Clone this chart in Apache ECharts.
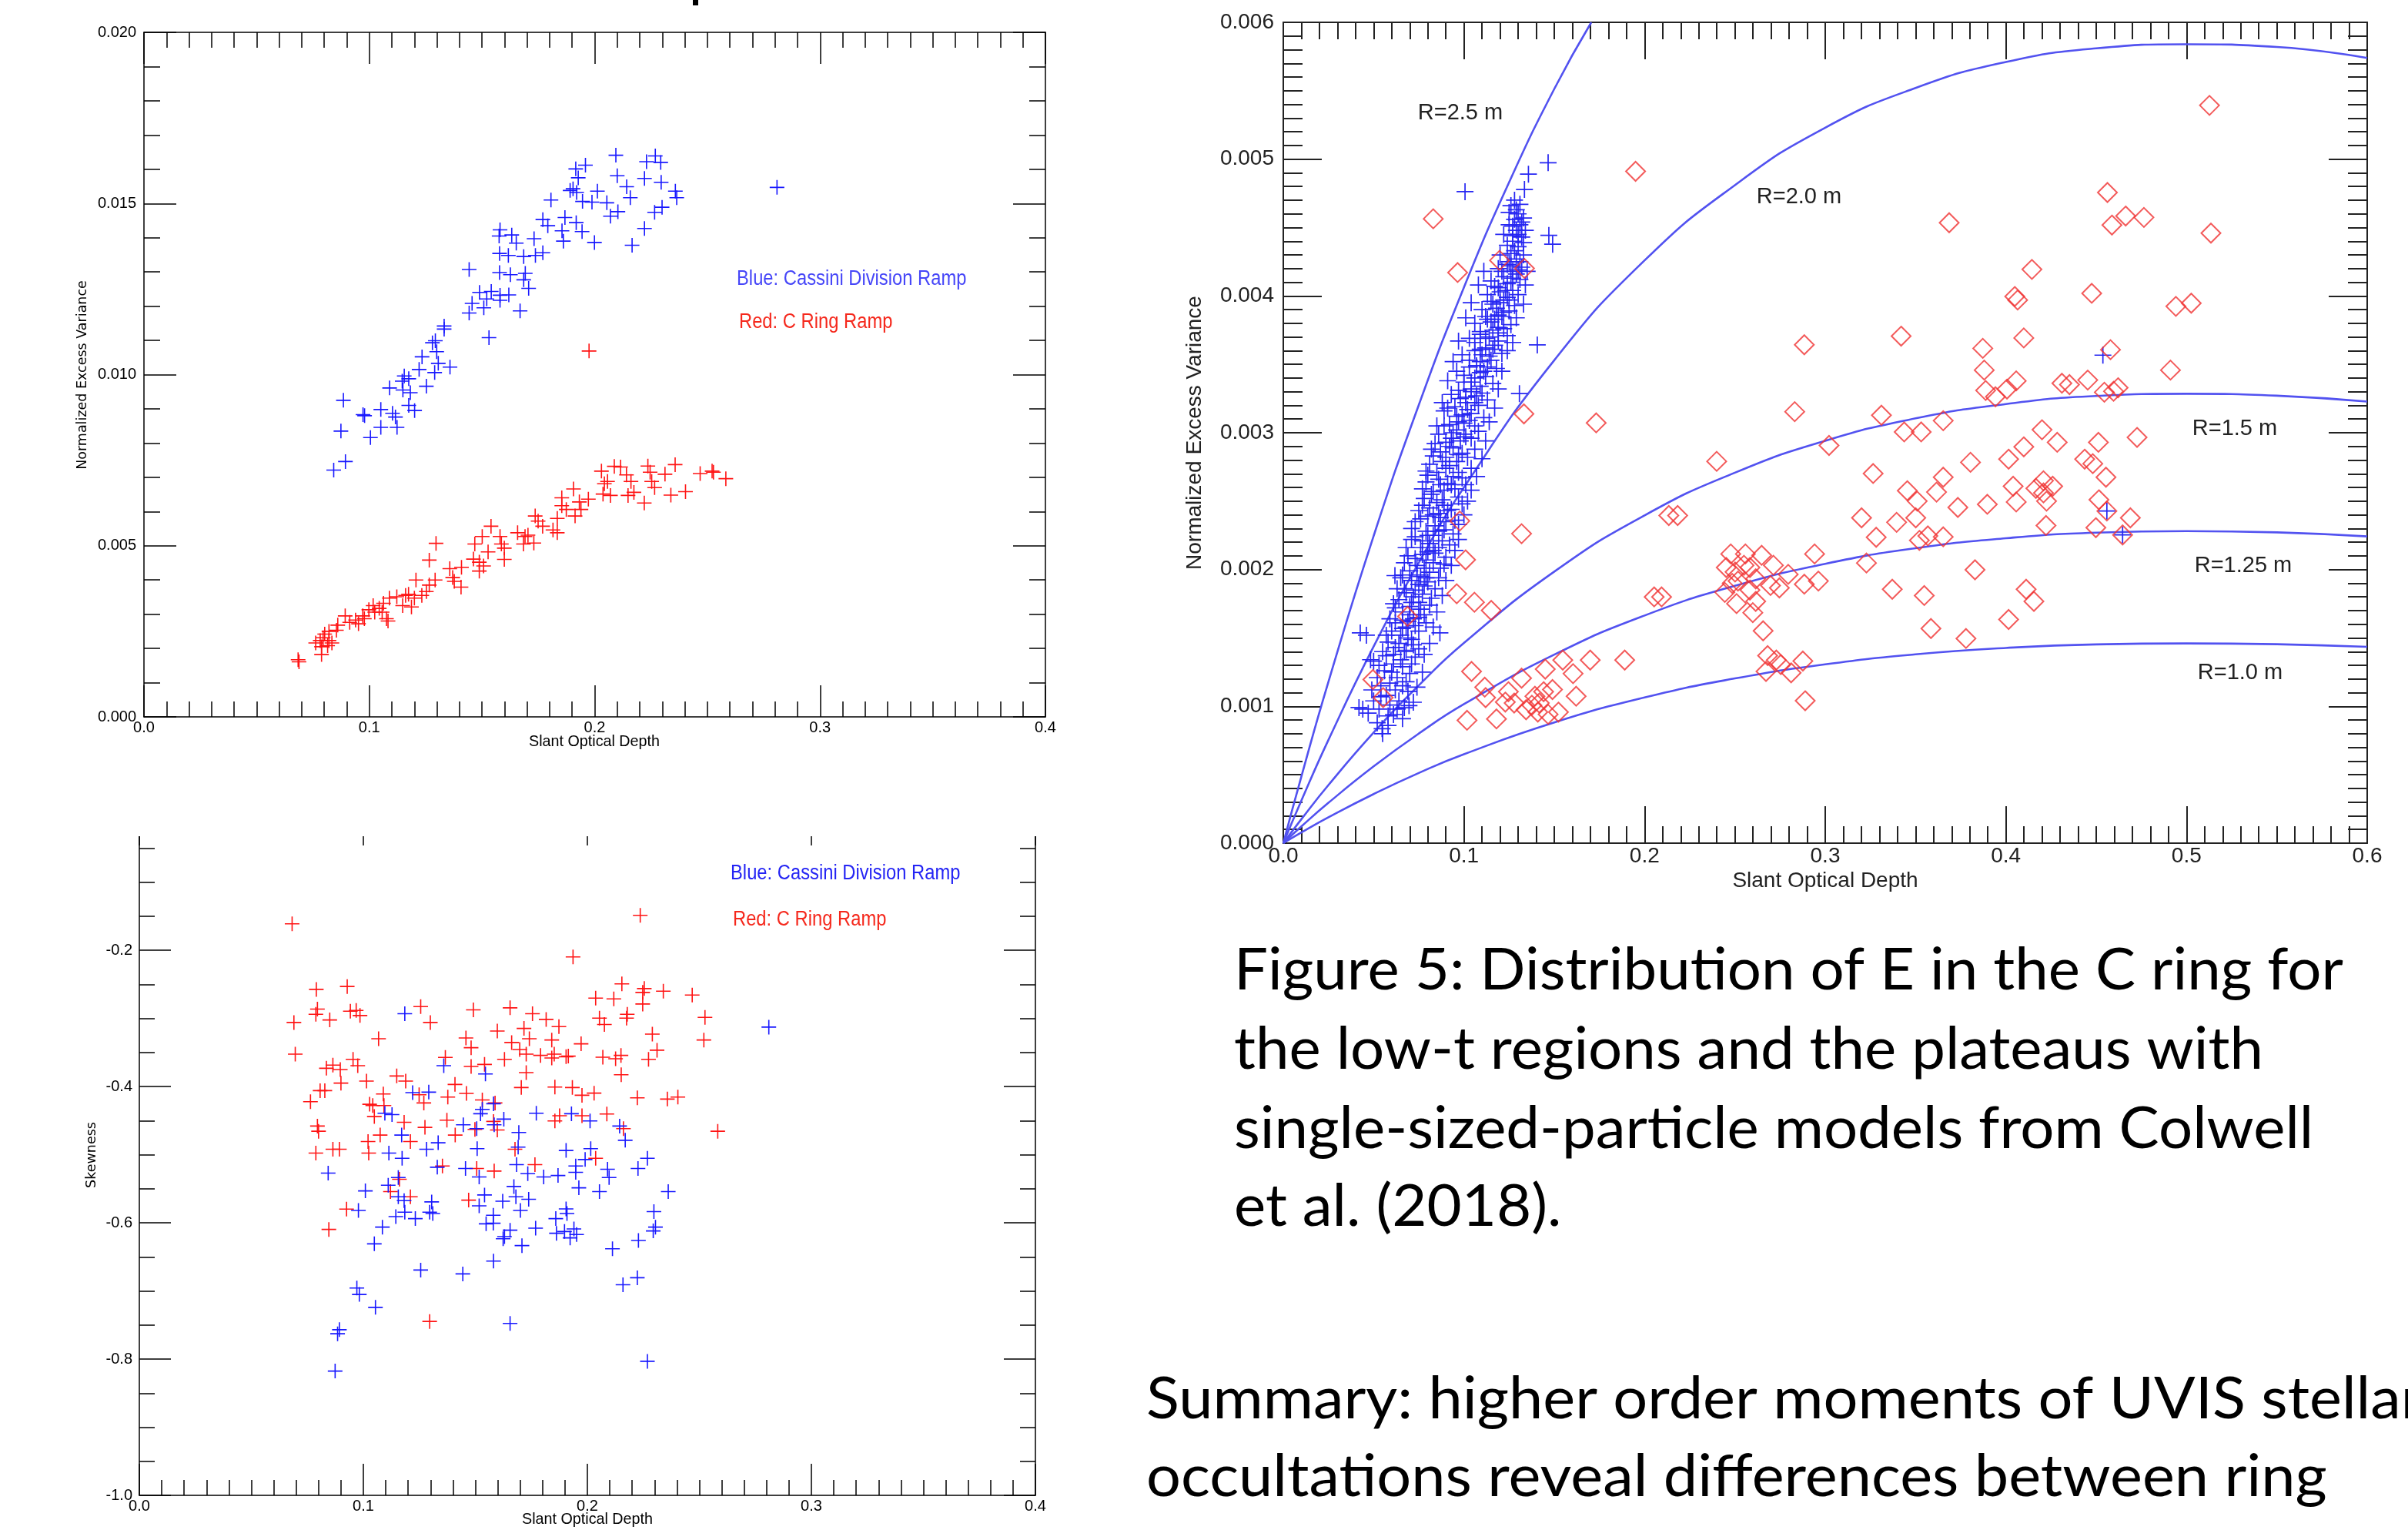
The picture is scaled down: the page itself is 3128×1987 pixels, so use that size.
<!DOCTYPE html>
<html><head><meta charset="utf-8">
<script src="https://cdn.jsdelivr.net/npm/echarts@6/dist/echarts.min.js"></script>
<style>html,body{margin:0;padding:0;background:#fff}#c{width:3128px;height:1987px}</style>
</head><body><div id="c"></div>
<script>
// ---------- Top-left: Normalized Excess Variance vs Slant Optical Depth ----------
const tlBlue = [[0.2094,0.01641],[0.2230,0.01622],[0.2269,0.01639],[0.2293,0.01620],[0.1959,0.01612],[0.1916,0.01601],[0.2100,0.01581],[0.2221,0.01573],[0.1927,0.01575],[0.2295,0.01562],[0.2142,0.01549],[0.1891,0.01538],[0.1904,0.01543],[0.1920,0.01532],[0.2012,0.01536],[0.2358,0.01536],[0.2364,0.01517],[0.2158,0.01517],[0.1806,0.01510],[0.1946,0.01506],[0.1988,0.01504],[0.2054,0.01502],[0.2299,0.01489],[0.2266,0.01474],[0.2103,0.01476],[0.2070,0.01463],[0.1770,0.01453],[0.1868,0.01459],[0.1918,0.01444],[0.1792,0.01435],[0.1855,0.01420],[0.1944,0.01418],[0.2221,0.01427],[0.1580,0.01423],[0.1632,0.01408],[0.1576,0.01405],[0.1731,0.01397],[0.1652,0.01384],[0.1861,0.01390],[0.1999,0.01386],[0.2166,0.01378],[0.1578,0.01354],[0.1617,0.01348],[0.1685,0.01345],[0.1737,0.01348],[0.1770,0.01356],[0.1443,0.01307],[0.1578,0.01298],[0.1626,0.01292],[0.1692,0.01296],[0.1685,0.01277],[0.1707,0.01252],[0.1489,0.01240],[0.1541,0.01243],[0.1580,0.01232],[0.1619,0.01233],[0.1521,0.01221],[0.1456,0.01208],[0.1508,0.01195],[0.1443,0.01180],[0.1669,0.01186],[0.1580,0.01217],[0.1332,0.01142],[0.1332,0.01133],[0.1293,0.01099],[0.1280,0.01093],[0.1531,0.01108],[0.1299,0.01067],[0.1234,0.01052],[0.1306,0.01033],[0.1358,0.01022],[0.1221,0.01015],[0.1290,0.01006],[0.1155,0.00996],[0.1175,0.00988],[0.1146,0.00981],[0.1090,0.00961],[0.1253,0.00966],[0.1149,0.00955],[0.1182,0.00947],[0.1175,0.00910],[0.1201,0.00895],[0.1051,0.00898],[0.1103,0.00887],[0.1116,0.00876],[0.0972,0.00883],[0.0979,0.00880],[0.0885,0.00925],[0.0874,0.00835],[0.1005,0.00816],[0.1051,0.00846],[0.1123,0.00846],[0.0894,0.00746],[0.0842,0.00721],[0.2809,0.01547]];
const tlRed = [[0.1975,0.01069],[0.2030,0.00718],[0.2087,0.00732],[0.2115,0.00730],[0.2141,0.00707],[0.2236,0.00733],[0.2357,0.00737],[0.2312,0.00709],[0.2246,0.00715],[0.2468,0.00711],[0.2521,0.00718],[0.2527,0.00715],[0.2582,0.00696],[0.2057,0.00688],[0.2043,0.00681],[0.2161,0.00688],[0.2253,0.00688],[0.2266,0.00670],[0.2174,0.00656],[0.2148,0.00647],[0.2037,0.00651],[0.2070,0.00647],[0.2338,0.00648],[0.2403,0.00658],[0.2220,0.00625],[0.1906,0.00666],[0.1854,0.00640],[0.1972,0.00636],[0.1932,0.00628],[0.1854,0.00617],[0.1874,0.00606],[0.1939,0.00606],[0.1913,0.00587],[0.1736,0.00587],[0.1749,0.00572],[0.1834,0.00580],[0.1769,0.00557],[0.1815,0.00546],[0.1834,0.00538],[0.1540,0.00557],[0.1501,0.00527],[0.1580,0.00527],[0.1658,0.00538],[0.1691,0.00527],[0.1704,0.00531],[0.1730,0.00508],[0.1684,0.00505],[0.1586,0.00505],[0.1599,0.00493],[0.1468,0.00505],[0.1527,0.00482],[0.1462,0.00461],[0.1488,0.00452],[0.1507,0.00441],[0.1488,0.00426],[0.1599,0.00460],[0.1409,0.00437],[0.1357,0.00433],[0.1370,0.00407],[0.1377,0.00396],[0.1407,0.00379],[0.1296,0.00507],[0.1266,0.00458],[0.1292,0.00400],[0.1266,0.00385],[0.1253,0.00366],[0.1207,0.00400],[0.1233,0.00355],[0.1174,0.00358],[0.1200,0.00347],[0.1161,0.00355],[0.1122,0.00351],[0.1089,0.00347],[0.1148,0.00325],[0.1187,0.00321],[0.1063,0.00332],[0.1017,0.00325],[0.1044,0.00317],[0.1024,0.00306],[0.1057,0.00306],[0.1076,0.00287],[0.1083,0.00280],[0.0971,0.00295],[0.0939,0.00283],[0.0978,0.00287],[0.0893,0.00295],[0.0913,0.00276],[0.0860,0.00268],[0.0854,0.00253],[0.0821,0.00250],[0.0802,0.00242],[0.0795,0.00231],[0.0821,0.00223],[0.0782,0.00223],[0.0762,0.00216],[0.0834,0.00216],[0.0815,0.00208],[0.0788,0.00205],[0.0788,0.00182],[0.0684,0.00167],[0.0688,0.00161],[0.0952,0.00272],[0.0998,0.00313]];

// ---------- Bottom-left: Skewness vs Slant Optical Depth ----------
const skRed = [[0.0682,-0.1613],[0.2236,-0.1488],[0.1936,-0.2099],[0.0790,-0.2575],[0.0928,-0.2533],[0.2154,-0.2495],[0.2254,-0.2563],[0.2247,-0.2620],[0.2339,-0.2601],[0.2468,-0.2658],[0.2037,-0.2703],[0.2118,-0.2714],[0.2247,-0.2790],[0.0795,-0.2865],[0.0788,-0.2941],[0.0850,-0.3024],[0.0942,-0.2895],[0.0968,-0.2884],[0.0985,-0.2959],[0.0690,-0.3061],[0.1256,-0.2827],[0.1299,-0.3061],[0.1491,-0.2876],[0.1655,-0.2846],[0.1755,-0.2933],[0.1816,-0.3016],[0.1873,-0.3122],[0.2054,-0.2997],[0.2076,-0.3091],[0.2178,-0.2941],[0.2175,-0.2997],[0.2525,-0.2986],[0.1068,-0.3299],[0.1458,-0.3288],[0.1481,-0.3431],[0.1598,-0.3186],[0.1717,-0.3148],[0.1741,-0.3299],[0.1662,-0.3355],[0.1698,-0.3457],[0.1841,-0.3318],[0.1972,-0.3374],[0.2290,-0.3231],[0.2520,-0.3318],[0.2311,-0.3468],[0.0696,-0.3525],[0.0835,-0.3733],[0.0864,-0.3687],[0.0897,-0.3752],[0.0954,-0.3601],[0.0975,-0.3695],[0.1366,-0.3574],[0.1481,-0.3706],[0.1541,-0.3676],[0.1630,-0.3601],[0.1727,-0.3525],[0.1791,-0.3544],[0.1841,-0.3582],[0.1852,-0.3525],[0.1905,-0.3563],[0.1915,-0.3555],[0.2069,-0.3570],[0.2126,-0.3593],[0.2150,-0.3544],[0.2273,-0.3601],[0.1727,-0.3797],[0.2151,-0.3827],[0.1149,-0.3846],[0.1189,-0.3921],[0.0900,-0.3951],[0.1014,-0.3921],[0.0807,-0.4061],[0.0828,-0.4061],[0.0764,-0.4223],[0.1409,-0.3970],[0.1460,-0.4102],[0.1377,-0.4155],[0.1705,-0.4015],[0.1855,-0.4008],[0.1933,-0.4015],[0.1976,-0.4129],[0.2030,-0.4098],[0.1249,-0.4121],[0.1270,-0.4242],[0.1089,-0.4110],[0.1028,-0.4261],[0.1042,-0.4280],[0.1092,-0.4280],[0.1049,-0.4442],[0.1531,-0.4197],[0.1588,-0.4242],[0.2223,-0.4166],[0.2357,-0.4185],[0.2404,-0.4155],[0.1182,-0.4525],[0.1373,-0.4495],[0.0795,-0.4581],[0.0800,-0.4657],[0.1275,-0.4600],[0.1581,-0.4513],[0.1598,-0.4638],[0.1498,-0.4630],[0.1855,-0.4506],[0.1876,-0.4430],[0.1976,-0.4430],[0.2087,-0.4404],[0.2161,-0.4619],[0.2582,-0.4657],[0.1075,-0.4713],[0.1021,-0.4808],[0.1410,-0.4713],[0.1210,-0.4808],[0.0864,-0.4921],[0.0893,-0.4921],[0.0788,-0.4977],[0.1024,-0.4977],[0.1677,-0.4921],[0.1353,-0.5166],[0.1506,-0.5204],[0.1584,-0.5241],[0.1766,-0.5147],[0.2037,-0.5053],[0.1161,-0.5362],[0.1121,-0.5543],[0.1210,-0.5619],[0.1470,-0.5668],[0.0925,-0.5800],[0.0846,-0.6098],[0.1296,-0.7448]];
const skBlue = [[0.1185,-0.2933],[0.2810,-0.3129],[0.1359,-0.3695],[0.1545,-0.3816],[0.1220,-0.4091],[0.1292,-0.4083],[0.1096,-0.4393],[0.1128,-0.4412],[0.1531,-0.4336],[0.1523,-0.4400],[0.1581,-0.4253],[0.1627,-0.4479],[0.1772,-0.4393],[0.1929,-0.4400],[0.2012,-0.4506],[0.2144,-0.4581],[0.2169,-0.4789],[0.1446,-0.4562],[0.1506,-0.4619],[0.1584,-0.4562],[0.1694,-0.4675],[0.1171,-0.4713],[0.1334,-0.4826],[0.1282,-0.4921],[0.1508,-0.4913],[0.1691,-0.4890],[0.1905,-0.4939],[0.2015,-0.4913],[0.1114,-0.4977],[0.1173,-0.5053],[0.0843,-0.5272],[0.1330,-0.5185],[0.1456,-0.5204],[0.1517,-0.5328],[0.1684,-0.5147],[0.1734,-0.5279],[0.1805,-0.5328],[0.1869,-0.5306],[0.1948,-0.5166],[0.1948,-0.5260],[0.1990,-0.5072],[0.2090,-0.5215],[0.2097,-0.5336],[0.2226,-0.5204],[0.2268,-0.5053],[0.1156,-0.5336],[0.1111,-0.5449],[0.1009,-0.5532],[0.1156,-0.5619],[0.1182,-0.5675],[0.1305,-0.5694],[0.1962,-0.5487],[0.2054,-0.5543],[0.2361,-0.5543],[0.1672,-0.5468],[0.1541,-0.5592],[0.1622,-0.5683],[0.1681,-0.5619],[0.1738,-0.5656],[0.1517,-0.5751],[0.1701,-0.5819],[0.0978,-0.5819],[0.1185,-0.5845],[0.1296,-0.5845],[0.1310,-0.5864],[0.1145,-0.5909],[0.1232,-0.5939],[0.1580,-0.5890],[0.1548,-0.6015],[0.1580,-0.6007],[0.1859,-0.5939],[0.1905,-0.5796],[0.1909,-0.5864],[0.2297,-0.5837],[0.1085,-0.6064],[0.1655,-0.6109],[0.1630,-0.6203],[0.1624,-0.6234],[0.1769,-0.6079],[0.1862,-0.6154],[0.1898,-0.6128],[0.1940,-0.6090],[0.1952,-0.6173],[0.1923,-0.6222],[0.2304,-0.6064],[0.2294,-0.6120],[0.1049,-0.6309],[0.1708,-0.6335],[0.2112,-0.6381],[0.2228,-0.6260],[0.1581,-0.6562],[0.1256,-0.6694],[0.1444,-0.6750],[0.2223,-0.6807],[0.2159,-0.6909],[0.0971,-0.6958],[0.0982,-0.7052],[0.1054,-0.7241],[0.1655,-0.7478],[0.0893,-0.7569],[0.0885,-0.7629],[0.2268,-0.8033],[0.0874,-0.8176]];

// ---------- Right: Figure 5 ----------
const rpBlue = [[0.1466,0.004974],[0.1357,0.004890],[0.1335,0.004778],[0.1006,0.004762],[0.1470,0.004443],[0.1491,0.004378],[0.1406,0.003642],[0.1307,0.003286],[0.0618,0.001956],[0.0426,0.001537],[0.0483,0.001341],[0.0419,0.000991],[0.0547,0.000837],[0.0696,0.001005],[0.0867,0.001537],[0.4537,0.003567],[0.4559,0.002428],[0.4646,0.002253],
[0.046,0.00152],[0.050,0.00133],[0.044,0.00098],[0.055,0.00080],[0.058,0.00086],[0.053,0.00098],[0.061,0.00094],[0.064,0.00104],[0.057,0.00108],[0.066,0.00091],[0.069,0.00111],[0.059,0.00117],[0.063,0.00121],[0.070,0.00124],[0.056,0.00126],[0.061,0.00131],[0.066,0.00129],[0.073,0.00136],[0.068,0.00141],[0.062,0.00143],[0.058,0.00147],[0.071,0.00149],[0.065,0.00152],[0.075,0.00155],[0.068,0.00158],[0.062,0.00161],[0.072,0.00164],[0.078,0.00167],[0.066,0.00169],[0.070,0.00173],[0.075,0.00176],[0.081,0.00174],[0.064,0.00178],[0.068,0.00183],[0.073,0.00185],[0.078,0.00188],[0.084,0.00186],[0.071,0.00192],[0.076,0.00195],[0.066,0.00196],[0.081,0.00198],[0.087,0.00201],[0.074,0.00203],[0.079,0.00207],[0.069,0.00210],[0.084,0.00212],[0.090,0.00209],[0.076,0.00216],[0.081,0.00219],[0.088,0.00221],[0.073,0.00224],[0.094,0.00226],[0.079,0.00228],[0.084,0.00232],[0.090,0.00235],[0.097,0.00233],[0.076,0.00237],[0.086,0.00241],[0.081,0.00245],[0.093,0.00244],[0.099,0.00248],[0.088,0.00251],[0.078,0.00252],[0.083,0.00257],[0.095,0.00259],[0.091,0.00263],[0.101,0.00262],[0.086,0.00266],[0.080,0.00269],[0.097,0.00271],[0.092,0.00276],[0.104,0.00274],[0.088,0.00279],[0.083,0.00283],[0.099,0.00285],[0.094,0.00289],[0.106,0.00288],[0.090,0.00293],[0.101,0.00297],[0.086,0.00299],[0.096,0.00302],[0.108,0.00301],[0.092,0.00306],[0.103,0.00309],[0.099,0.00313],[0.111,0.00311],[0.089,0.00316],[0.095,0.00319],[0.106,0.00322],[0.101,0.00326],[0.113,0.00324],[0.097,0.00331],[0.109,0.00334],[0.104,0.00337],[0.116,0.00336],[0.100,0.00342],[0.111,0.00345],[0.107,0.00349],[0.118,0.00347],[0.103,0.00353],[0.114,0.00356],[0.121,0.00358],[0.109,0.00361],[0.106,0.00366],[0.117,0.00364],[0.112,0.00369],[0.124,0.00371],[0.109,0.00374],[0.119,0.00377],[0.115,0.00381],[0.126,0.00379],[0.112,0.00385],[0.122,0.00388],[0.118,0.00391],[0.128,0.00393],[0.115,0.00396],[0.124,0.00399],[0.120,0.00403],[0.130,0.00401],[0.117,0.00407],[0.126,0.00410],[0.122,0.00414],[0.131,0.00412],[0.127,0.00418],[0.124,0.00423],[0.132,0.00421],[0.129,0.00427],[0.126,0.00431],[0.133,0.00430],[0.130,0.00436],[0.127,0.00440],[0.132,0.00443],[0.129,0.00448],[0.131,0.00452],[0.128,0.00456],[0.130,0.00460],[0.133,0.00457],[0.125,0.00461],
[0.052,0.00088],[0.059,0.00101],[0.067,0.00099],[0.062,0.00112],[0.054,0.00115],[0.068,0.00118],[0.060,0.00125],[0.065,0.00134],[0.071,0.00131],[0.057,0.00137],[0.075,0.00142],[0.064,0.00146],[0.069,0.00150],[0.060,0.00155],[0.073,0.00159],[0.079,0.00161],[0.066,0.00163],[0.070,0.00167],[0.076,0.00171],[0.062,0.00172],[0.082,0.00179],[0.072,0.00180],[0.067,0.00186],[0.080,0.00191],[0.075,0.00189],[0.086,0.00194],[0.070,0.00199],[0.078,0.00201],[0.083,0.00205],[0.089,0.00204],[0.073,0.00208],[0.080,0.00213],[0.086,0.00216],[0.092,0.00218],[0.077,0.00221],[0.083,0.00225],[0.089,0.00229],[0.071,0.00230],[0.095,0.00236],[0.080,0.00239],[0.087,0.00238],[0.091,0.00243],[0.077,0.00247],[0.085,0.00249],[0.097,0.00253],[0.082,0.00255],[0.089,0.00258],[0.093,0.00262],[0.079,0.00264],[0.099,0.00267],[0.085,0.00271],[0.090,0.00274],[0.096,0.00279],[0.081,0.00277],[0.102,0.00282],[0.087,0.00286],[0.092,0.00290],[0.098,0.00294],[0.104,0.00296],[0.084,0.00292],[0.094,0.00300],[0.089,0.00305],[0.100,0.00307],[0.106,0.00305],[0.096,0.00312],[0.091,0.00318],[0.102,0.00317],[0.108,0.00320],[0.098,0.00325],[0.093,0.00328],[0.104,0.00330],[0.110,0.00329],[0.100,0.00337],[0.106,0.00340],[0.112,0.00341],[0.096,0.00345],[0.103,0.00348],[0.109,0.00352],[0.115,0.00353],[0.099,0.00357],[0.106,0.00360],[0.112,0.00362],[0.119,0.00367],[0.103,0.00369],[0.109,0.00372],[0.116,0.00375],[0.122,0.00376],[0.106,0.00380],[0.113,0.00383],[0.119,0.00386],[0.110,0.00390],[0.125,0.00389],[0.116,0.00394],[0.122,0.00397],[0.113,0.00401],[0.127,0.00404],[0.119,0.00406],[0.124,0.00409],[0.115,0.00411],[0.129,0.00416],[0.121,0.00418],[0.125,0.00425],[0.119,0.00420],[0.131,0.00425],[0.128,0.00433],[0.124,0.00437],[0.133,0.00439],[0.130,0.00445],[0.127,0.00451],[0.132,0.00454],[0.129,0.00463],
[0.047,0.00095],[0.050,0.00104],[0.049,0.00112],[0.052,0.00121],[0.054,0.00107],[0.072,0.00103],[0.074,0.00114],[0.053,0.00130],[0.055,0.00140],[0.077,0.00125],[0.078,0.00138],[0.057,0.00152],[0.081,0.00146],[0.059,0.00164],[0.083,0.00158],[0.061,0.00175],[0.085,0.00169],[0.063,0.00186],[0.088,0.00181],[0.065,0.00194],[0.090,0.00192],[0.067,0.00205],[0.093,0.00203],[0.068,0.00216],[0.095,0.00214],[0.071,0.00222],[0.097,0.00222],[0.073,0.00235],[0.100,0.00240],[0.075,0.00243],[0.102,0.00250],[0.077,0.00259],[0.104,0.00258],[0.079,0.00272],[0.107,0.00268],[0.082,0.00288],[0.110,0.00281],[0.085,0.00305],[0.112,0.00294],[0.088,0.00322],[0.114,0.00308],[0.091,0.00338],[0.117,0.00318],[0.094,0.00352],[0.119,0.00332],[0.097,0.00367],[0.121,0.00345],[0.101,0.00384],[0.124,0.00360],[0.104,0.00395],[0.127,0.00366],[0.108,0.00408],[0.129,0.00384],[0.111,0.00418],[0.133,0.00394],[0.134,0.00408],[0.120,0.00430],[0.135,0.00418],[0.122,0.00445],[0.134,0.00448],[0.126,0.00466],[0.128,0.00470],[0.131,0.00467],[0.127,0.00444],[0.125,0.00452],
[0.063,0.00098],[0.058,0.00093],[0.066,0.00115],[0.061,0.00138],[0.067,0.00140],[0.072,0.00145],[0.066,0.00157],[0.069,0.00162],[0.075,0.00165],[0.071,0.00176],[0.077,0.00182],[0.074,0.00196],[0.079,0.00194],[0.077,0.00211],[0.083,0.00214],[0.080,0.00225],[0.086,0.00228],[0.083,0.00240],[0.089,0.00247],[0.087,0.00262],[0.094,0.00268],[0.090,0.00282],[0.097,0.00284],[0.093,0.00296],[0.100,0.00299],[0.097,0.00308],[0.104,0.00314],[0.101,0.00322],[0.107,0.00327],[0.104,0.00332],[0.109,0.00344],[0.113,0.00348],[0.110,0.00357],[0.116,0.00361],[0.114,0.00370],[0.119,0.00373],[0.117,0.00383],[0.121,0.00385],[0.120,0.00395],[0.125,0.00397],[0.123,0.00404],[0.127,0.00413],[0.126,0.00422],[0.130,0.00419]];
const rpRed = [[0.0830,0.004564],[0.0965,0.004171],[0.1197,0.004260],[0.1335,0.004201],[0.1950,0.004911],[0.2884,0.003643],[0.2831,0.003154],[0.1332,0.003138],[0.1732,0.003072],[0.2399,0.002791],[0.0977,0.002355],[0.1319,0.002262],[0.2134,0.002395],[0.2183,0.002395],[0.1009,0.002071],[0.0960,0.001823],[0.1058,0.001761],[0.1151,0.001701],[0.0688,0.001658],[0.2053,0.001800],[0.2094,0.001800],[0.0496,0.001196],[0.0553,0.001064],[0.1042,0.001255],[0.1115,0.001140],[0.1120,0.001064],[0.1017,0.000898],[0.1180,0.000908],[0.1246,0.001107],[0.1319,0.001206],[0.1229,0.001031],[0.1278,0.001024],[0.1344,0.000975],[0.1393,0.001074],[0.1417,0.001024],[0.1441,0.001107],[0.1450,0.001272],[0.1490,0.001123],[0.1523,0.000958],[0.1547,0.001338],[0.1604,0.001239],[0.1621,0.001074],[0.1699,0.001338],[0.1890,0.001338],[0.1409,0.000958],[0.1466,0.000942],[0.1376,0.001008],[0.2477,0.002114],[0.2558,0.002114],[0.2648,0.002104],[0.2713,0.002031],[0.2452,0.002015],[0.2501,0.001982],[0.2583,0.002015],[0.2517,0.001916],[0.2615,0.001932],[0.2444,0.001833],[0.2583,0.001850],[0.2697,0.001883],[0.2746,0.001866],[0.2795,0.001965],[0.2884,0.001893],[0.2941,0.002114],[0.2509,0.001751],[0.2615,0.001767],[0.2599,0.001685],[0.2656,0.001552],[0.2681,0.001371],[0.2729,0.001338],[0.2754,0.001305],[0.2672,0.001255],[0.2811,0.001245],[0.2876,0.001331],[0.2889,0.001041],[0.2550,0.002031],[0.2485,0.001899],
[0.5127,0.005393],[0.4562,0.004756],[0.4587,0.004518],[0.4663,0.004584],[0.4764,0.004574],[0.5135,0.004459],[0.3686,0.004535],[0.4144,0.004194],[0.4049,0.003996],[0.4065,0.003970],[0.4475,0.004019],[0.4941,0.003924],[0.5026,0.003947],[0.3420,0.003706],[0.4099,0.003693],[0.3872,0.003617],[0.3880,0.003458],[0.4579,0.003607],[0.4911,0.003458],[0.3888,0.003309],[0.3942,0.003263],[0.4006,0.003319],[0.4057,0.003379],[0.4310,0.003362],[0.4352,0.003352],[0.4453,0.003385],[0.4545,0.003296],[0.4596,0.003303],[0.4621,0.003329],[0.3311,0.003128],[0.3437,0.003006],[0.3531,0.003006],[0.3653,0.003088],[0.3021,0.002907],[0.4200,0.003022],[0.4284,0.002930],[0.4099,0.002897],[0.4015,0.002807],[0.3804,0.002784],[0.4512,0.002930],[0.4436,0.002807],[0.4481,0.002774],[0.4726,0.002966],[0.3265,0.002702],[0.3653,0.002675],[0.3454,0.002576],[0.3616,0.002566],[0.3509,0.002500],[0.4040,0.002609],[0.4166,0.002593],[0.4208,0.002649],[0.4259,0.002609],[0.4554,0.002675],[0.4057,0.002494],[0.4225,0.002500],[0.3897,0.002477],[0.3734,0.002454],[0.4515,0.002510],[0.3201,0.002378],[0.3395,0.002345],[0.3501,0.002378],[0.3282,0.002236],[0.3521,0.002213],[0.3568,0.002246],[0.3653,0.002239],[0.4222,0.002322],[0.4498,0.002306],[0.4689,0.002378],[0.4646,0.002253],[0.3228,0.002048],[0.2962,0.001916],[0.3829,0.001998],[0.3371,0.001856],[0.3548,0.001810],[0.4112,0.001856],[0.4155,0.001767],[0.4015,0.001635],[0.3585,0.001569],[0.3779,0.001496],[0.4559,0.002428],[0.4208,0.002560]];

// model curves
const curveTau = [0,0.01,0.025,0.05,0.075,0.1,0.15,0.2,0.25,0.3,0.35,0.4,0.45,0.5,0.55,0.6];
const r25Tau = [0,0.01,0.025,0.05,0.075,0.1,0.125,0.15,0.1705];
const r25E = [0,0.000486,0.00118,0.002245,0.003203,0.004063,0.004831,0.005513,0.006];
const r20E = [0,0.000311,0.000755,0.001437,0.00205,0.0026,0.00353,0.00426,0.00481,0.00523,0.00552,0.00571,0.00581,0.00584,0.00582,0.00574];
const r15E = [0,0.000175,0.000425,0.000808,0.001153,0.001463,0.001985,0.002396,0.002708,0.002941,0.003105,0.00321,0.003269,0.003285,0.003271,0.003228];
const r125E = [0,0.000122,0.000295,0.000561,0.000801,0.001016,0.001378,0.001664,0.001881,0.002042,0.002156,0.002229,0.00227,0.002281,0.002272,0.002242];
const r10E = [0,0.0000778,0.000189,0.000359,0.000513,0.00065,0.000882,0.001065,0.001204,0.001307,0.00138,0.001427,0.001453,0.00146,0.001454,0.001435];

const captionLines = ['Figure 5: Distribution of E in the C ring for','the low-t regions and the plateaus with','single-sized-particle models from Colwell','et al. (2018).'];
const summaryLines = ['Summary: higher order moments of UVIS stellar','occultations reveal differences between ring'];

const SANS = '"Liberation Sans",Arial,sans-serif';
const DEJ = '"DejaVu Sans",sans-serif';
const PLUS = 'path://M10,0L10,20M0,10L20,10';

function axis(o){
  return {
    type:'value', gridIndex:o.g, position:o.pos, min:o.min, max:o.max, interval:o.iv,
    axisLine:{show:true,onZero:false,lineStyle:{color:o.lc||'#000',width:o.lw}},
    axisTick:{show:true,inside:true,length:o.tl,lineStyle:{color:o.lc||'#000',width:o.lw}},
    minorTick:{show:true,splitNumber:o.ms,length:o.ml,lineStyle:{color:o.lc||'#000',width:o.lw}},
    splitLine:{show:false}, minorSplitLine:{show:false},
    axisLabel:{show:!!o.lab, formatter:(v)=>v.toFixed(o.dec||1), fontFamily:o.ff, fontSize:o.fs, color:o.col||'#000', margin:o.mg||8}
  };
}

const xAxes = [
  axis({g:0,pos:'bottom',min:0,max:0.4,iv:0.1,lw:1.5,tl:41,ms:10,ml:20,lab:true,dec:1,ff:SANS,fs:20,mg:4}),
  axis({g:0,pos:'top',min:0,max:0.4,iv:0.1,lw:1.5,tl:41,ms:10,ml:20}),
  axis({g:1,pos:'bottom',min:0,max:0.4,iv:0.1,lw:1.5,tl:41,ms:10,ml:20,lab:true,dec:1,ff:SANS,fs:20,mg:4}),
  axis({g:1,pos:'top',min:0,max:0.4,iv:0.1,lw:1.5,tl:41,ms:10,ml:20}),
  axis({g:2,pos:'bottom',min:0,max:0.6,iv:0.1,lw:2,lc:'#222',tl:48,ms:10,ml:22,lab:true,dec:1,ff:SANS,fs:28,col:'#222',mg:3}),
  axis({g:2,pos:'top',min:0,max:0.6,iv:0.1,lw:2,lc:'#222',tl:48,ms:10,ml:22})
];
const yAxes = [
  axis({g:0,pos:'left',min:0,max:0.02,iv:0.005,lw:1.5,tl:42,ms:5,ml:21,lab:true,dec:3,ff:SANS,fs:20,mg:10}),
  axis({g:0,pos:'right',min:0,max:0.02,iv:0.005,lw:1.5,tl:42,ms:5,ml:21}),
  axis({g:1,pos:'left',min:-1,max:0,iv:0.2,lw:1.5,tl:41,ms:4,ml:20,lab:true,dec:1,ff:SANS,fs:20,mg:9}),
  axis({g:1,pos:'right',min:-1,max:0,iv:0.2,lw:1.5,tl:41,ms:4,ml:20}),
  axis({g:2,pos:'left',min:0,max:0.006,iv:0.001,lw:2,lc:'#222',tl:50,ms:10,ml:25,lab:true,dec:3,ff:SANS,fs:28,col:'#222',mg:12}),
  axis({g:2,pos:'right',min:0,max:0.006,iv:0.001,lw:2,lc:'#222',tl:50,ms:10,ml:25})
];

function plusSeries(data, xi, color, size, lw){
  return {type:'scatter', xAxisIndex:xi, yAxisIndex:xi, data:data, symbol:PLUS, symbolSize:size, silent:true,
    itemStyle:{color:'rgba(0,0,0,0)', borderColor:color, borderWidth:lw, opacity:1}};
}
function curve(tau, vals){
  return {type:'line', xAxisIndex:4, yAxisIndex:4, data:tau.map((t,i)=>[t,vals[i]]), smooth:true, showSymbol:false, symbol:'none', silent:true,
    lineStyle:{color:'#5252f0', width:2.6}, z:2};
}

const graphics = [];
function txt(x,y,text,font,size,color,align,va,rot,sx){
  graphics.push({type:'text', x:x, y:y, rotation:rot||0, scaleX:sx||1, z:50, silent:true,
    style:{text:text, fontFamily:font, fontSize:size, fill:color, align:align||'left', verticalAlign:va||'middle'}});
}
// cover for the cut-off top of the skewness panel
graphics.push({type:'rect', z:40, silent:true, shape:{x:100,y:995,width:1350,height:91}, style:{fill:'#fff'}});
// title fragment at top edge
graphics.push({type:'rect', z:40, silent:true, shape:{x:900,y:0,width:7,height:7}, style:{fill:'#000'}});

// top-left texts
txt(772,963,'Slant Optical Depth',SANS,21,'#000','center','middle',0,0.94);
txt(107,487,'Normalized Excess Variance',DEJ,17.5,'#000','center','middle',Math.PI/2);
txt(957,363,'Blue: Cassini Division Ramp',SANS,27,'#4646f8','left','middle',0,0.88);
txt(960,419,'Red: C Ring Ramp',SANS,27,'#f5281c','left','middle',0,0.88);
// bottom-left texts
txt(763,1973,'Slant Optical Depth',SANS,21,'#000','center','middle',0,0.94);
txt(119,1500,'Skewness',DEJ,17.5,'#000','center','middle',Math.PI/2);
txt(949,1135,'Blue: Cassini Division Ramp',SANS,27,'#2424f4','left','middle',0,0.88);
txt(952,1195,'Red: C Ring Ramp',SANS,27,'#f5281c','left','middle',0,0.88);
// right texts
txt(2371,1144,'Slant Optical Depth',SANS,28,'#222','center');
txt(1552,562,'Normalized Excess Variance',SANS,28,'#222','center','middle',Math.PI/2);
txt(1897,147,'R=2.5 m',SANS,29,'#222','center');
txt(2337,256,'R=2.0 m',SANS,29,'#222','center');
txt(2903,557,'R=1.5 m',SANS,29,'#222','center');
txt(2914,735,'R=1.25 m',SANS,29,'#222','center');
txt(2910,874,'R=1.0 m',SANS,29,'#222','center');
// caption
const capBase = [1285,1388,1491,1592];
captionLines.forEach((l,i)=>txt(1603,capBase[i]-24,l,'Lato',75,'#000','left','middle',0,1.04));
const sumBase = [1842,1943];
summaryLines.forEach((l,i)=>txt(1489,sumBase[i]-24,l,'Lato',75,'#000','left','middle',0,1.058));

const option = {
  animation:false,
  backgroundColor:'#fff',
  grid:[
    {left:187,top:42,width:1171,height:889},
    {left:181,top:1057,width:1164,height:885},
    {left:1667,top:29,width:1408,height:1066}
  ],
  xAxis:xAxes, yAxis:yAxes,
  series:[
    plusSeries(tlBlue,0,'#1818ff',19,1.6),
    plusSeries(tlRed,0,'#ff1414',19,1.6),
    plusSeries(skRed,2,'#ff1414',19,1.6),
    plusSeries(skBlue,2,'#1818ff',19,1.6),
    curve(r25Tau,r25E), curve(curveTau,r20E), curve(curveTau,r15E), curve(curveTau,r125E), curve(curveTau,r10E),
    plusSeries(rpBlue,4,'#2626f2',22,1.7),
    {type:'scatter', xAxisIndex:4, yAxisIndex:4, data:rpRed, symbol:'diamond', symbolSize:25, silent:true,
      itemStyle:{color:'rgba(0,0,0,0)', borderColor:'#f03232', borderWidth:2}}
  ],
  graphic:graphics
};
const chart = echarts.init(document.getElementById('c'));
chart.setOption(option);
</script></body></html>
